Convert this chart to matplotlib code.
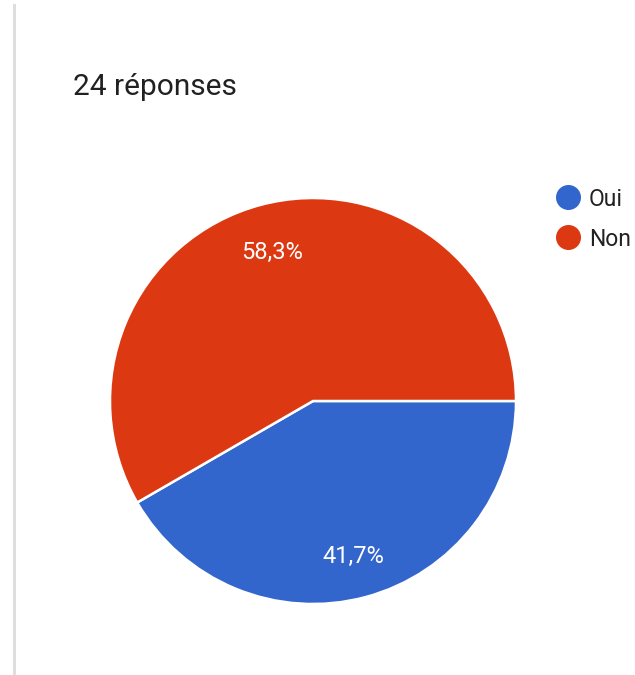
import matplotlib
matplotlib.use("Agg")
import matplotlib.pyplot as plt
from matplotlib.lines import Line2D

plt.rcParams['font.family'] = ['Roboto', 'DejaVu Sans']

# Survey answers
categories = ["Oui", "Non"]
counts = [10, 14]
colors = ["#3366cc", "#dc3912"]
title = "24 réponses"

W, H = 635, 675
fig = plt.figure(figsize=(W / 100, H / 100), dpi=100)
fig.patch.set_facecolor("white")

# Background layer in pixel coordinates for the frame line
bg = fig.add_axes([0, 0, 1, 1])
bg.set_xlim(0, W)
bg.set_ylim(H, 0)
bg.axis("off")
bg.add_line(Line2D([13.5, 13.5], [5, H], color="#dedede", lw=2.2))

fig.text(73 / W, 1 - 95 / H, title, fontsize=21.5, color="#212121",
         ha="left", va="baseline")

# Pie
cx, cy, r = 313, 401, 203
ax = fig.add_axes([(cx - r) / W, (H - cy - r) / H, 2 * r / W, 2 * r / H])


def fmt(p):
    return f"{p:.1f}%".replace(".", ",")


wedges, texts, autotexts = ax.pie(
    counts, colors=colors, startangle=0, counterclock=False,
    autopct=fmt, pctdistance=0.775,
    wedgeprops=dict(edgecolor="white", linewidth=1.8),
    textprops=dict(color="white", fontsize=17),
)
# nudge the percentage labels slightly downward
for t in autotexts:
    x, y = t.get_position()
    t.set_position((x, y - 0.018))
ax.set_xlim(-1, 1)
ax.set_ylim(-1, 1)
ax.set_aspect("equal")
ax.axis("off")

# Legend
leg_x, leg_y0, leg_dy = 567.5, 196.5, 40
for i, (name, col) in enumerate(zip(categories, colors)):
    y = leg_y0 + i * leg_dy
    bg.scatter([leg_x], [y], s=(25 * 0.72) ** 2, color=col, zorder=3,
               linewidths=0)
    bg.text(589, y, name, fontsize=16.5, color="#222222",
            ha="left", va="center_baseline")

fig.savefig("out.png", dpi=100, facecolor="white")
